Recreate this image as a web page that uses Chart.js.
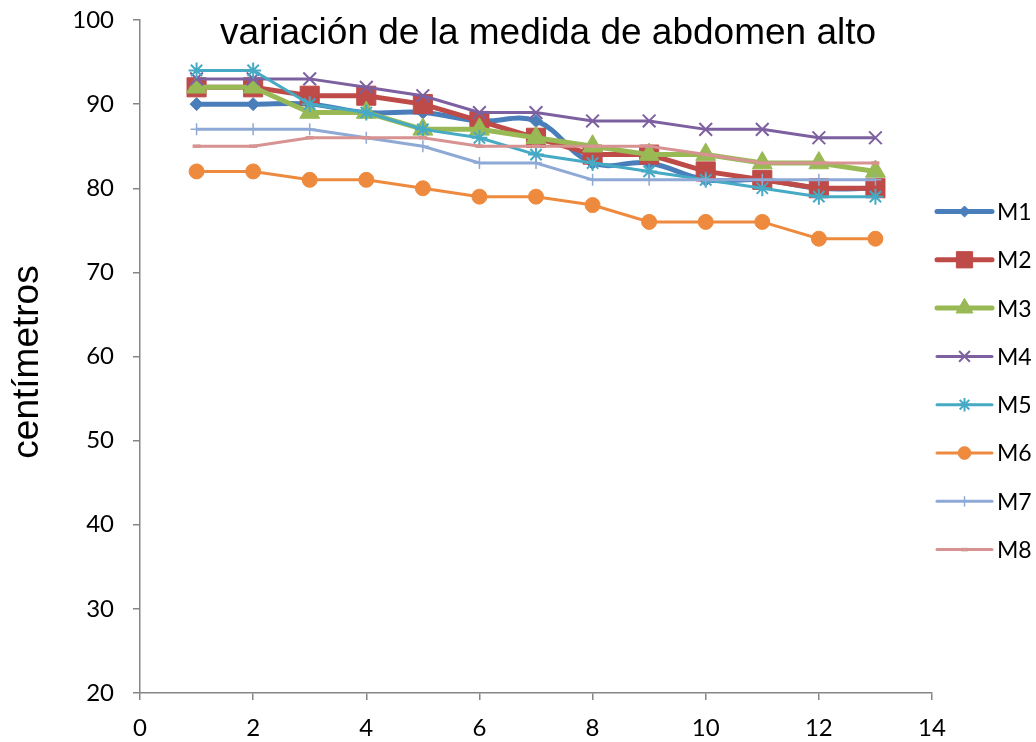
<!DOCTYPE html>
<html>
<head>
<meta charset="utf-8">
<script src="https://cdn.jsdelivr.net/npm/chart.js@4/dist/chart.umd.min.js"></script>
<style>
  html, body { margin: 0; padding: 0; background: #fff; }
  #wrap { width: 1036px; height: 742px; }
</style>
</head>
<body>
<div id="wrap"><canvas id="c" width="1036" height="742"></canvas></div>
<script>
// Measurement sessions (x) and waist readings in cm for each subject
const sessions = [1, 2, 3, 4, 5, 6, 7, 8, 9, 10, 11, 12, 13];
const seriesNames = ['M1', 'M2', 'M3', 'M4', 'M5', 'M6', 'M7', 'M8'];
const m1 = [90, 90, 90, 89, 89, 88, 88, 83, 83, 81, 81, 80, 80];
const m2 = [92, 92, 91, 91, 90, 88, 86, 84, 84, 82, 81, 80, 80];
const m3 = [92, 92, 89, 89, 87, 87, 86, 85, 84, 84, 83, 83, 82];
const m4 = [93, 93, 93, 92, 91, 89, 89, 88, 88, 87, 87, 86, 86];
const m5 = [94, 94, 90, 89, 87, 86, 84, 83, 82, 81, 80, 79, 79];
const m6 = [82, 82, 81, 81, 80, 79, 79, 78, 76, 76, 76, 74, 74];
const m7 = [87, 87, 87, 86, 85, 83, 83, 81, 81, 81, 81, 81, 81];
const m8 = [85, 85, 86, 86, 86, 85, 85, 85, 85, 84, 83, 83, 83];
const xTicks = [0, 2, 4, 6, 8, 10, 12, 14];
const yTicks = [20, 30, 40, 50, 60, 70, 80, 90, 100];

const titleText = 'variación de la medida de abdomen alto';
const yTitle = 'centímetros';

const allValues = [m1, m2, m3, m4, m5, m6, m7, m8];
const styles = [
  { color: '#4A7EBB', width: 5, point: 'rectRot', r: 6.5, bw: 1, tension: 0.4 },
  { color: '#BE4B48', width: 5, point: 'rect', r: 13.5, bw: 1, tension: 0 },
  { color: '#98B954', width: 5, point: 'triangle', r: 11.5, bw: 1, tension: 0 },
  { color: '#7D60A0', width: 3, point: 'crossRot', r: 9, bw: 2, tension: 0 },
  { color: '#46AAC5', width: 3, point: 'star', r: 8, bw: 2, tension: 0 },
  { color: '#EE8A3E', width: 3, point: 'circle', r: 7.5, bw: 1, tension: 0 },
  { color: '#8EA9D5', width: 3, point: 'cross', r: 6, bw: 1.5, tension: 0 },
  { color: '#D69391', width: 3, point: 'line', r: 4, bw: 3.5, tension: 0 }
];

const datasets = seriesNames.map((name, i) => ({
  label: name,
  data: sessions.map((s, k) => ({ x: s, y: allValues[i][k] })),
  borderColor: styles[i].color,
  backgroundColor: styles[i].color,
  borderWidth: styles[i].width,
  tension: styles[i].tension,
  pointStyle: styles[i].point,
  pointRadius: styles[i].r,
  pointBorderWidth: styles[i].bw,
  pointBorderColor: styles[i].color,
  pointBackgroundColor: styles[i].color,
  order: seriesNames.length - 1 - i,
  clip: false
}));

const tickFont = { family: 'Lato, "Liberation Sans", sans-serif', size: 24 };
const axisGray = '#868686';

// Title, rotated axis title and a line+marker legend on the right
const decorations = {
  id: 'decorations',
  afterDraw(chart) {
    const ctx = chart.ctx;
    ctx.save();
    ctx.fillStyle = '#000';
    ctx.font = '37px "Liberation Sans", Arial, sans-serif';
    ctx.textAlign = 'center';
    ctx.textBaseline = 'alphabetic';
    ctx.fillText(titleText, 548, 44);

    ctx.save();
    ctx.translate(38, 362);
    ctx.rotate(-Math.PI / 2);
    ctx.textAlign = 'center';
    ctx.fillText(yTitle, 0, 0);
    ctx.restore();

    const x0 = 937, x1 = 992, yStart = 211.5, step = 48.3;
    chart.data.datasets.forEach((ds, i) => {
      const y = yStart + i * step;
      ctx.strokeStyle = ds.borderColor;
      ctx.lineWidth = ds.borderWidth;
      ctx.lineCap = 'round';
      ctx.beginPath();
      ctx.moveTo(x0, y);
      ctx.lineTo(x1, y);
      ctx.stroke();
      ctx.fillStyle = ds.pointBackgroundColor;
      ctx.strokeStyle = ds.pointBorderColor;
      ctx.lineWidth = ds.pointBorderWidth;
      ctx.lineCap = 'butt';
      Chart.helpers.drawPoint(ctx, {
        pointStyle: ds.pointStyle,
        radius: ds.pointRadius * 0.85,
        rotation: 0,
        borderWidth: ds.pointBorderWidth
      }, (x0 + x1) / 2, y);
      ctx.fillStyle = '#000';
      ctx.font = '23px Lato, "Liberation Sans", sans-serif';
      ctx.textAlign = 'left';
      ctx.textBaseline = 'middle';
      ctx.fillText(ds.label, 997, y + 1);
    });
    ctx.restore();
  }
};

new Chart(document.getElementById('c'), {
  type: 'line',
  data: { datasets },
  options: {
    responsive: false,
    animation: false,
    layout: { padding: { left: 0, right: 104, top: 20, bottom: 0 } },
    plugins: { legend: { display: false }, title: { display: false }, tooltip: { enabled: false } },
    scales: {
      x: {
        type: 'linear',
        min: xTicks[0],
        max: xTicks[xTicks.length - 1],
        afterBuildTicks(scale) { scale.ticks = xTicks.map(v => ({ value: v })); },
        afterFit(scale) {
          scale.height = 49;
          scale.paddingLeft = 0;
          scale.paddingRight = 0;
        },
        ticks: { color: '#000', font: tickFont, padding: 14, maxRotation: 0, autoSkip: false },
        grid: { drawOnChartArea: false, color: axisGray, tickLength: 7, lineWidth: 1.5 },
        border: { color: axisGray, width: 1.5 }
      },
      y: {
        type: 'linear',
        min: yTicks[0],
        max: yTicks[yTicks.length - 1],
        afterBuildTicks(scale) { scale.ticks = yTicks.map(v => ({ value: v })); },
        afterFit(scale) {
          scale.width = 140;
          scale.paddingTop = 0;
          scale.paddingBottom = 0;
        },
        ticks: { color: '#000', font: tickFont, padding: 19, autoSkip: false },
        grid: { drawOnChartArea: false, color: axisGray, tickLength: 7, lineWidth: 1.5 },
        border: { color: axisGray, width: 1.5 }
      }
    }
  },
  plugins: [decorations]
});
</script>
</body>
</html>
